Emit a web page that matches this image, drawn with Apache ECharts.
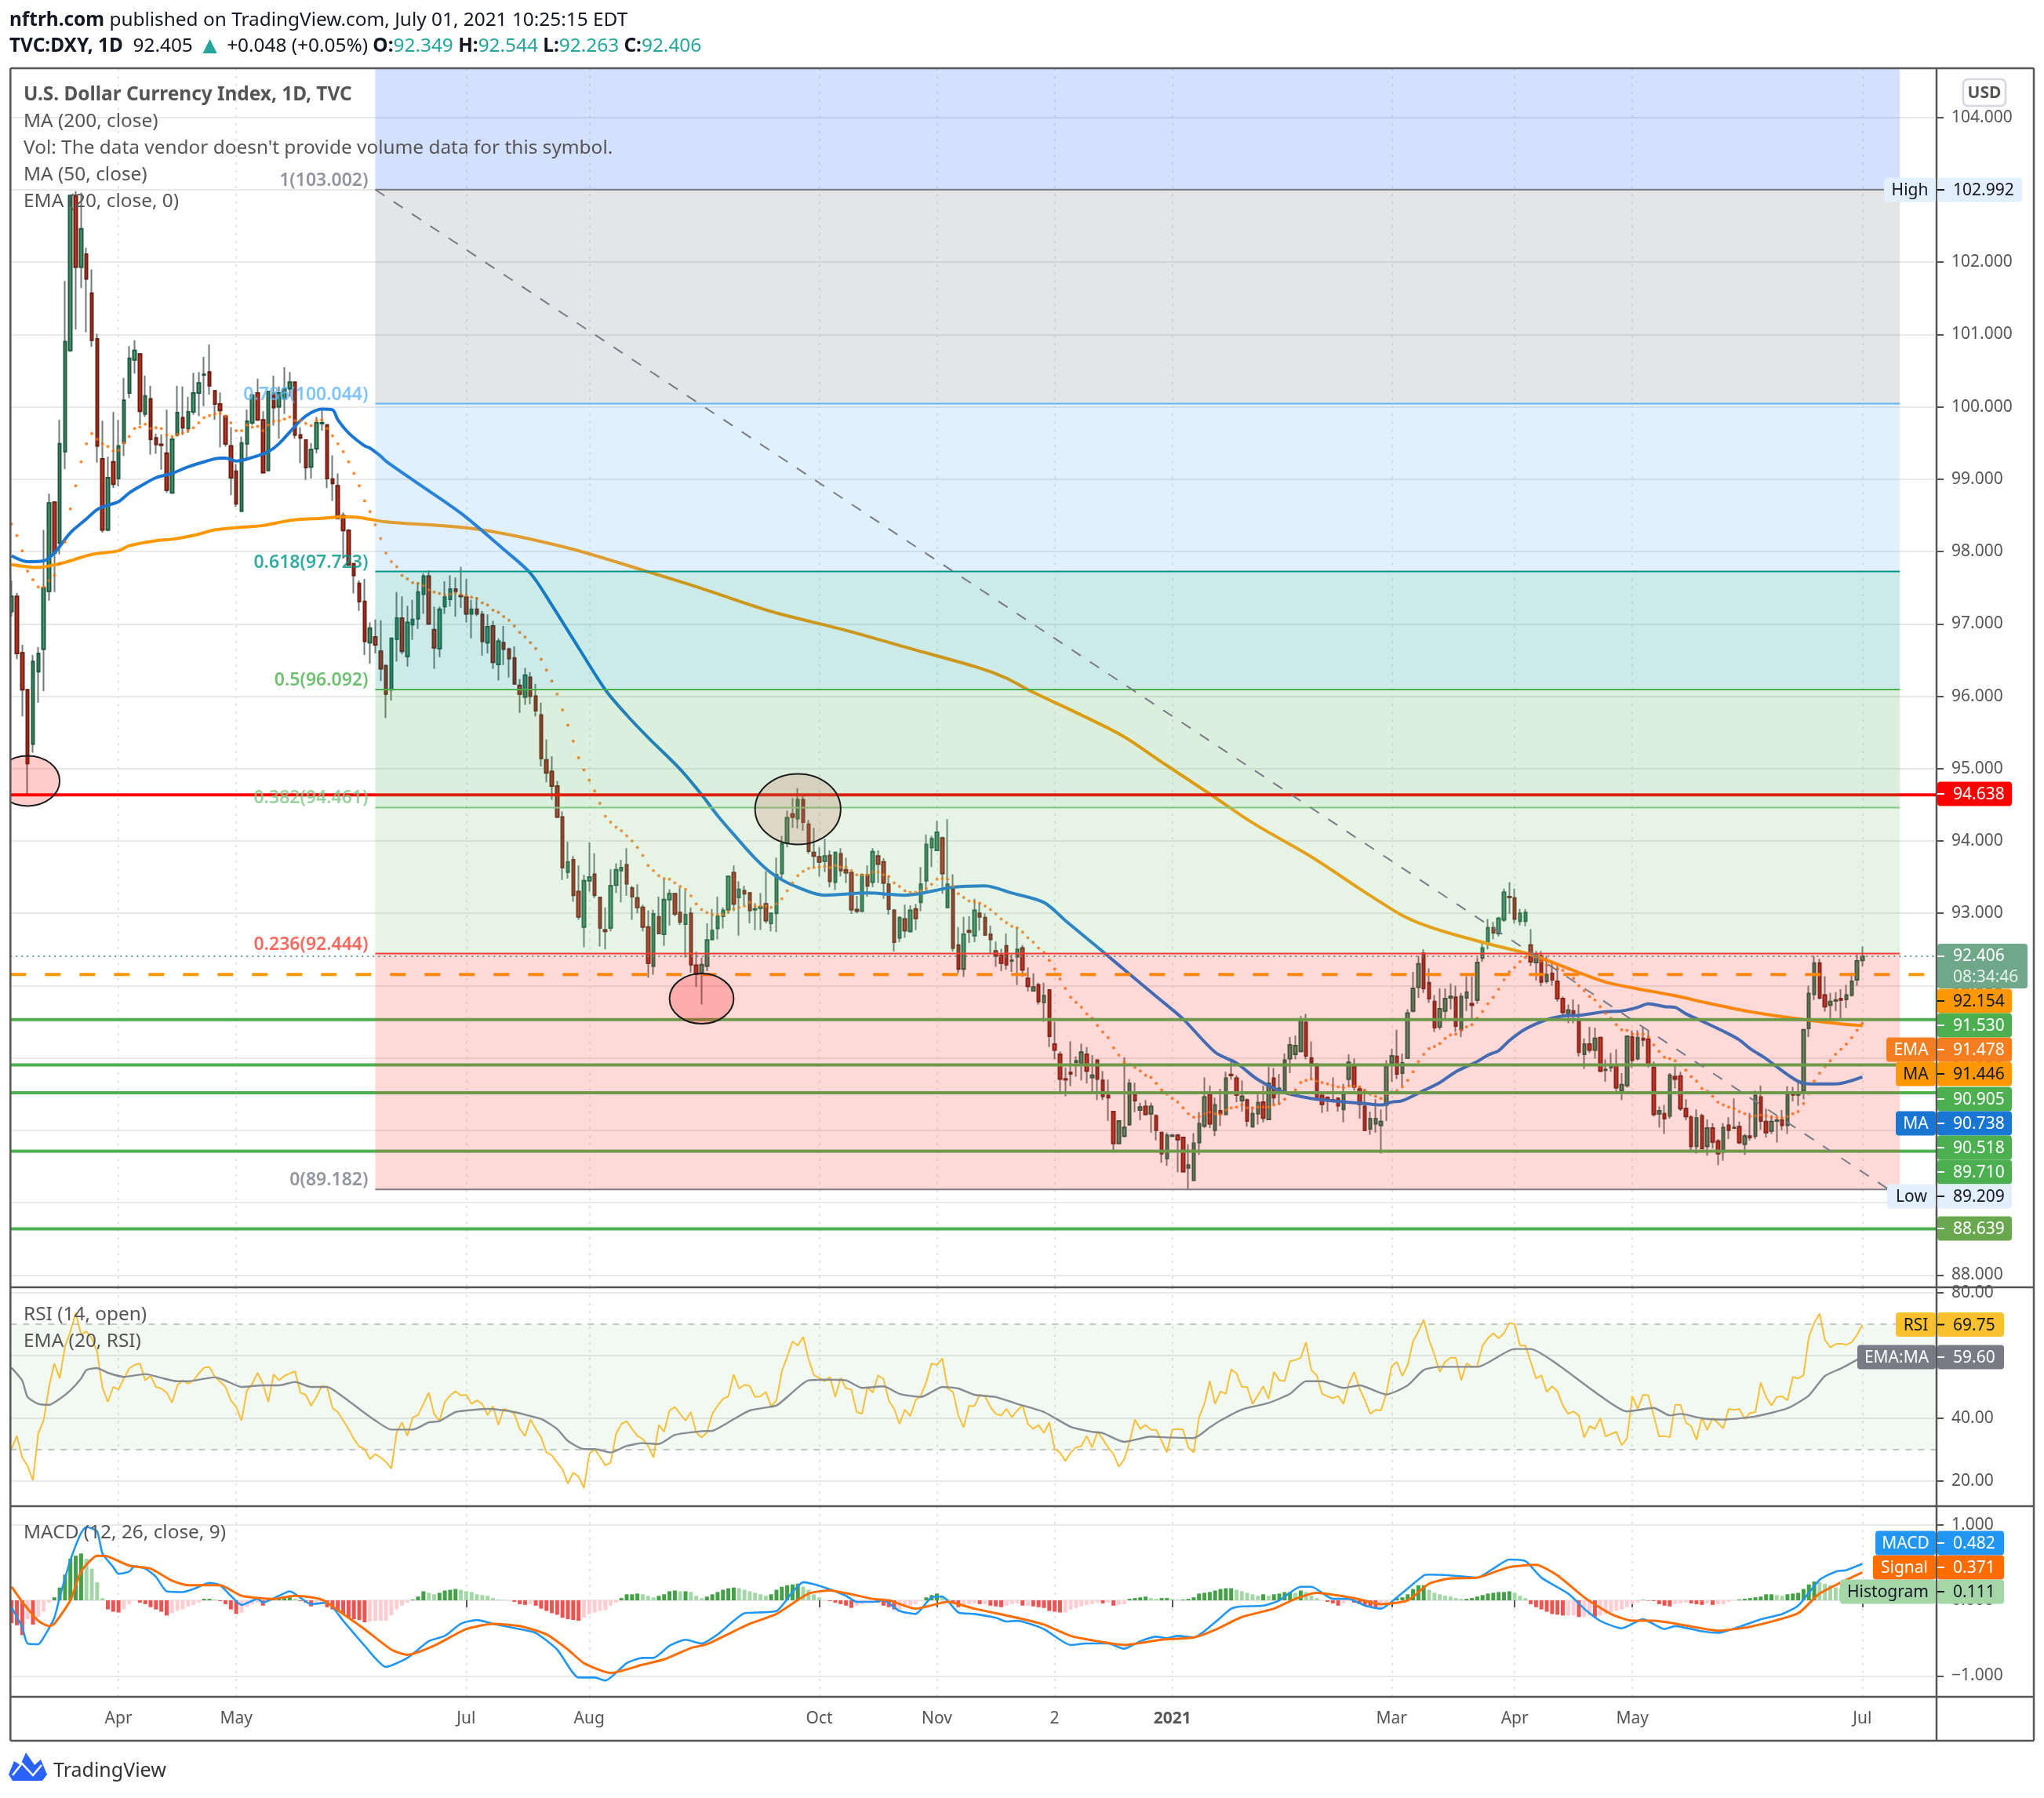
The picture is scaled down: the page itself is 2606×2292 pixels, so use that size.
<!DOCTYPE html>
<html><head><meta charset="utf-8"><style>html,body{margin:0;background:#fff}#c{width:2606px;height:2292px}</style>
<script src="https://cdn.jsdelivr.net/npm/echarts@6/dist/echarts.min.js"></script></head><body><div id="c"></div>
<script>
// [open, close, low, high] per trading day
const candles=[
[97.17,97.38,97.10,97.60],[97.38,96.59,96.51,97.43],[96.60,96.09,95.72,96.71],[96.09,95.07,94.64,96.10],[95.34,96.48,95.22,96.57],
[96.34,96.59,95.91,96.68],[96.65,97.50,96.07,98.30],[97.45,98.67,97.32,98.80],[98.68,97.98,97.44,98.69],[98.12,99.49,97.96,99.82],
[99.38,100.90,99.14,101.74],[100.78,102.92,100.76,102.93],[102.92,101.93,101.07,102.98],[101.93,102.46,101.64,102.96],[102.11,101.77,101.03,102.20],
[101.57,100.92,100.83,101.90],[100.94,99.46,99.23,101.01],[99.28,98.30,98.26,99.81],[98.30,99.02,98.28,99.31],[99.24,98.93,98.88,99.93],
[99.01,99.46,98.90,99.82],[99.50,100.09,99.32,100.40],[100.19,100.67,100.12,100.84],[100.65,100.78,100.46,100.92],[100.73,99.94,99.75,100.74],
[99.90,100.15,99.86,100.43],[100.11,99.55,99.34,100.29],[99.57,99.48,99.35,99.63],[99.48,99.47,99.13,99.62],[99.36,98.85,98.81,99.96],
[98.81,99.55,98.80,99.58],[99.61,99.92,99.59,100.29],[99.85,99.71,99.61,100.28],[99.70,99.93,99.64,100.14],[99.93,100.19,99.89,100.47],
[100.19,100.33,99.87,100.48],[100.44,100.45,100.01,100.69],[100.48,100.29,100.17,100.86],[100.22,100.04,99.82,100.23],[100.04,99.95,99.44,100.20],
[99.87,99.49,99.45,99.89],[99.46,99.02,98.78,99.72],[99.11,98.66,98.62,99.21],[98.56,99.50,98.55,99.59],[99.49,99.80,99.28,99.96],
[99.78,100.16,99.75,100.17],[100.19,99.82,99.81,100.39],[99.82,99.09,99.08,99.94],[99.12,100.21,99.11,100.22],[100.19,99.99,99.74,100.43],
[100.00,100.19,99.56,100.28],[100.11,100.25,99.90,100.55],[100.25,100.34,100.14,100.48],[100.34,99.61,99.56,100.35],[99.61,99.57,99.22,99.72],
[99.54,99.16,98.99,99.55],[99.17,99.41,99.01,99.50],[99.42,99.78,99.36,99.86],[99.77,99.78,99.67,99.98],[99.75,99.01,98.88,99.76],
[99.00,98.94,98.70,99.33],[98.91,98.46,98.45,99.08],[98.50,98.29,97.90,98.54],[98.29,97.82,97.81,98.31],[97.83,97.67,97.42,97.84],
[97.56,97.31,97.18,97.60],[97.31,96.76,96.57,97.62],[96.74,96.94,96.45,97.02],[96.82,96.71,96.59,97.06],[96.62,96.38,96.21,97.05],
[96.42,96.03,95.70,96.44],[96.09,96.80,95.94,96.81],[96.79,97.08,96.48,97.44],[97.08,96.62,96.58,97.38],[96.55,97.02,96.41,97.25],
[96.99,97.06,96.78,97.33],[97.07,97.44,96.93,97.57],[97.41,97.66,97.14,97.70],[97.66,97.00,96.99,97.74],[96.92,96.67,96.38,97.24],
[96.66,97.20,96.54,97.24],[97.24,97.37,97.14,97.59],[97.34,97.48,97.24,97.67],[97.48,97.45,97.10,97.64],[97.39,97.38,97.22,97.79],
[97.37,97.14,97.02,97.62],[97.14,97.20,96.80,97.33],[97.20,97.14,97.11,97.37],[97.13,96.76,96.56,97.18],[96.74,96.96,96.59,97.13],
[96.97,96.47,96.38,97.04],[96.44,96.76,96.22,96.80],[96.74,96.65,96.43,96.97],[96.65,96.52,96.26,96.67],[96.53,96.17,96.16,96.69],
[96.15,96.03,95.77,96.24],[95.99,96.29,95.88,96.39],[96.26,96.00,95.89,96.33],[96.00,95.80,95.72,96.17],[95.74,95.14,95.03,95.91],
[95.12,94.94,94.81,95.40],[94.96,94.76,94.57,95.17],[94.76,94.33,94.32,94.83],[94.33,93.63,93.46,94.41],[93.57,93.71,93.48,93.99],
[93.74,93.25,93.16,93.79],[93.30,92.95,92.91,93.66],[92.81,93.45,92.53,93.53],[93.45,93.50,93.30,93.98],[93.54,93.25,93.21,93.83],
[93.22,92.80,92.54,93.23],[92.77,92.75,92.50,93.08],[92.80,93.38,92.75,93.61],[93.39,93.60,93.28,93.69],[93.59,93.63,93.15,93.74],
[93.67,93.41,93.24,93.90],[93.35,93.23,92.91,93.38],[93.21,93.08,93.00,93.40],[93.08,92.81,92.75,93.12],[92.81,92.31,92.11,93.04],
[92.27,92.99,92.15,93.05],[92.95,92.72,92.71,93.23],[92.71,93.19,92.55,93.48],[93.19,93.27,92.83,93.33],[93.27,92.99,92.96,93.28],
[93.01,92.88,92.84,93.36],[92.85,92.98,92.39,93.31],[93.00,92.29,92.18,93.08],[92.28,92.16,91.98,92.47],[92.18,92.29,91.74,92.39],
[92.27,92.63,92.20,92.86],[92.64,92.76,92.63,93.06],[92.79,92.96,92.64,93.23],[92.96,93.04,92.79,93.08],[93.05,93.51,92.99,93.52],
[93.56,93.13,93.03,93.66],[93.22,93.33,92.69,93.44],[93.31,93.27,93.11,93.38],[93.28,93.04,92.86,93.29],[93.05,93.06,92.77,93.14],
[93.07,93.09,92.77,93.28],[93.13,92.90,92.86,93.58],[92.86,93.00,92.75,93.01],[93.00,93.53,92.74,93.77],[93.55,93.96,93.47,94.07],
[93.97,94.32,93.91,94.42],[94.37,94.33,94.18,94.59],[94.31,94.57,94.17,94.73],[94.57,94.26,94.14,94.62],[94.23,93.86,93.82,94.29],
[93.84,93.79,93.64,94.18],[93.78,93.71,93.51,93.91],[93.72,93.79,93.57,94.03],[93.80,93.44,93.36,93.87],[93.43,93.84,93.32,93.85],
[93.82,93.59,93.51,93.90],[93.60,93.56,93.42,93.77],[93.56,93.05,92.99,93.58],[93.05,93.03,93.00,93.24],[93.03,93.53,93.02,93.55],
[93.53,93.38,93.23,93.66],[93.43,93.85,93.36,93.90],[93.79,93.68,93.42,93.87],[93.71,93.42,93.20,93.76],[93.40,93.06,92.98,93.51],
[93.04,92.60,92.47,93.06],[92.66,92.94,92.60,92.96],[92.92,92.76,92.66,93.12],[92.75,93.04,92.73,93.11],[93.06,92.93,92.77,93.13],
[93.15,93.40,93.03,93.64],[93.45,93.95,93.31,94.09],[93.91,94.03,93.64,94.07],[93.87,94.12,93.86,94.28],[94.04,93.55,93.27,94.06],
[93.08,93.40,93.07,94.30],[93.33,92.52,92.47,93.54],[92.56,92.23,92.17,92.81],[92.23,92.71,92.12,92.95],[92.76,92.74,92.59,92.96],
[92.69,93.04,92.60,93.20],[93.00,92.95,92.76,93.14],[92.94,92.70,92.69,93.00],[92.71,92.64,92.45,92.83],[92.48,92.41,92.26,92.61],
[92.42,92.31,92.20,92.51],[92.55,92.29,92.22,92.72],[92.34,92.35,92.19,92.43],[92.40,92.50,92.01,92.81],[92.52,92.22,92.12,92.56],
[92.10,91.99,91.92,92.25],[91.93,91.98,91.92,92.17],[92.01,91.78,91.74,92.04],[91.77,91.86,91.50,92.04],[91.94,91.30,91.15,91.95],
[91.19,91.11,90.98,91.50],[91.05,90.71,90.54,91.09],[90.71,90.70,90.47,90.87],[90.80,90.78,90.61,91.23],[90.94,90.96,90.74,91.02],
[90.92,91.08,90.69,91.20],[91.05,90.82,90.65,91.15],[90.73,90.76,90.52,91.04],[90.97,90.71,90.42,90.98],[90.69,90.47,90.42,90.82],
[90.48,90.45,90.13,90.70],[90.26,89.82,89.72,90.27],[89.82,90.13,89.81,90.14],[89.92,90.04,89.90,91.01],[90.08,90.65,90.06,90.71],
[90.50,90.41,90.25,90.66],[90.28,90.32,90.14,90.38],[90.33,90.22,90.21,90.42],[90.23,90.33,89.97,90.38],[90.20,90.00,89.86,90.22],
[89.97,89.68,89.55,89.98],[89.61,89.93,89.51,89.97],[89.92,89.93,89.92,89.95],[89.93,89.87,89.42,89.95],[89.90,89.43,89.42,89.91],
[89.48,89.52,89.19,89.81],[89.31,89.82,89.30,89.96],[89.83,90.09,89.66,90.25],[90.06,90.46,90.03,90.73],[90.50,90.09,90.03,90.62],
[90.00,90.35,89.92,90.45],[90.27,90.23,90.06,90.57],[90.22,90.72,90.21,90.81],[90.77,90.76,90.70,90.95],[90.72,90.49,90.39,90.76],
[90.41,90.47,90.26,90.69],[90.42,90.13,90.05,90.44],[90.05,90.23,90.04,90.32],[90.23,90.38,90.08,90.50],[90.39,90.17,90.11,90.62],
[90.15,90.65,90.14,90.88],[90.72,90.45,90.35,90.86],[90.56,90.58,90.35,90.78],[90.52,90.97,90.51,91.06],[90.99,91.18,90.79,91.29],
[91.05,91.17,90.98,91.31],[91.09,91.53,91.08,91.58],[91.49,91.03,90.98,91.61],[91.00,90.93,90.70,91.23],[90.90,90.43,90.42,90.93],
[90.48,90.36,90.24,90.49],[90.45,90.42,90.26,90.47],[90.42,90.41,90.39,90.73],[90.44,90.34,90.26,90.46],[90.29,90.50,90.11,90.64],
[90.71,90.94,90.61,91.05],[90.88,90.60,90.55,90.99],[90.57,90.36,90.16,90.61],[90.33,90.00,89.99,90.57],[90.02,90.16,89.94,90.26],
[90.09,90.16,89.97,90.43],[90.07,90.12,89.68,90.29],[90.35,90.88,90.13,90.97],[90.93,91.03,90.67,91.13],[91.02,90.78,90.71,91.39],
[90.79,90.93,90.61,91.06],[91.00,91.62,90.99,91.67],[91.65,91.96,91.63,92.19],[91.98,92.30,91.83,92.41],[92.45,91.96,91.90,92.50],
[92.04,91.82,91.76,92.24],[91.78,91.42,91.36,91.87],[91.43,91.68,91.39,91.96],[91.65,91.82,91.55,91.96],[91.83,91.85,91.67,92.03],
[91.84,91.44,91.36,92.00],[91.39,91.85,91.29,91.90],[91.83,91.91,91.65,92.13],[91.75,91.73,91.55,92.13],[91.80,92.32,91.75,92.39],
[92.38,92.52,92.33,92.61],[92.59,92.80,92.50,92.92],[92.80,92.73,92.64,92.88],[92.72,92.93,92.68,92.95],[92.91,93.29,92.88,93.34],
[93.23,93.22,92.99,93.43],[93.21,92.92,92.86,93.34],[92.89,93.00,92.83,93.06],[92.89,93.01,92.82,93.06],[92.56,92.33,92.27,92.78],
[92.32,92.43,92.07,92.48],[92.41,92.05,91.99,92.48],[92.06,92.15,92.03,92.41],[92.17,92.08,92.00,92.33],[92.06,91.82,91.78,92.31],
[91.82,91.63,91.56,91.85],[91.62,91.66,91.48,91.74],[91.65,91.61,91.48,91.81],[91.51,91.08,91.02,91.74],[91.05,91.19,90.85,91.27],
[91.19,91.11,91.07,91.43],[91.11,91.27,90.99,91.42],[91.28,90.82,90.80,91.29],[90.83,90.84,90.67,90.98],[90.87,90.90,90.81,91.07],
[90.90,90.59,90.53,91.12],[90.55,90.63,90.42,90.79],[90.62,91.30,90.59,91.31],[91.29,90.97,90.86,91.38],[90.99,91.28,90.97,91.38],
[91.27,91.25,91.16,91.43],[91.26,90.91,90.87,91.38],[90.87,90.22,90.19,90.95],[90.23,90.27,90.04,90.33],[90.23,90.16,89.95,90.35],
[90.20,90.76,90.16,90.79],[90.74,90.71,90.58,90.89],[90.75,90.30,90.27,90.81],[90.30,90.19,90.14,90.43],[90.18,89.78,89.72,90.21],
[89.78,90.17,89.68,90.29],[90.20,89.75,89.74,90.23],[89.78,90.03,89.65,90.15],[90.03,89.84,89.75,90.10],[89.85,89.68,89.52,89.88],
[89.70,90.04,89.58,90.10],[90.07,90.00,89.88,90.18],[90.03,90.04,90.02,90.44],[90.05,89.83,89.81,90.12],[89.81,89.92,89.66,89.95],
[89.92,89.90,89.86,90.24],[89.92,90.48,89.88,90.55],[90.46,90.13,90.01,90.62],[90.12,89.97,89.90,90.30],[89.99,90.12,89.95,90.21],
[90.13,90.14,89.83,90.17],[90.14,90.07,90.00,90.28],[90.07,90.50,89.95,90.61],[90.50,90.49,90.40,90.60],[90.49,90.50,90.34,90.66],
[90.55,91.39,90.43,91.40],[91.41,91.89,91.29,92.00],[91.88,92.31,91.80,92.41],[92.31,91.83,91.81,92.37],[91.87,91.71,91.64,92.13],
[91.73,91.78,91.55,91.90],[91.79,91.80,91.65,91.91],[91.82,91.80,91.55,91.95],[91.81,91.87,91.69,92.01],[91.87,92.06,91.85,92.18],
[92.08,92.34,92.00,92.43],[92.349,92.406,92.263,92.544]];
// EMA 20 of the close, one dot per bar
const ema20=[98.38,98.22,98.01,97.73,97.61,97.51,97.51,97.60,97.67,97.83,98.13,98.59,98.91,99.24,99.49,99.63,99.55,99.49,99.45,99.39,
99.40,99.50,99.59,99.70,99.72,99.76,99.70,99.71,99.70,99.61,99.59,99.62,99.64,99.67,99.71,99.78,99.85,99.88,99.90,99.91,
99.87,99.78,99.67,99.67,99.75,99.72,99.73,99.67,99.75,99.80,99.81,99.83,99.86,99.81,99.81,99.77,99.74,99.81,99.82,99.70,
99.60,99.49,99.38,99.24,99.08,98.91,98.70,98.55,98.37,98.18,97.98,97.86,97.79,97.67,97.62,97.57,97.56,97.53,97.47,97.44,
97.42,97.40,97.41,97.43,97.41,97.39,97.37,97.35,97.29,97.26,97.19,97.16,97.10,97.05,96.97,96.88,96.82,96.74,96.66,96.51,
96.36,96.21,96.03,95.81,95.60,95.38,95.15,94.98,94.84,94.69,94.52,94.34,94.26,94.19,94.14,94.07,94.00,93.91,93.80,93.66,
93.59,93.52,93.48,93.47,93.42,93.37,93.33,93.24,93.13,93.05,93.01,92.98,92.98,92.98,93.02,93.06,93.08,93.10,93.15,93.10,
93.10,93.10,93.08,93.13,93.20,93.31,93.42,93.52,93.58,93.62,93.63,93.64,93.65,93.63,93.66,93.64,93.64,93.59,93.53,93.53,
93.53,93.57,93.57,93.53,93.51,93.42,93.37,93.31,93.29,93.29,93.31,93.34,93.40,93.47,93.48,93.47,93.38,93.27,93.22,93.17,
93.16,93.14,93.10,93.05,92.99,92.92,92.87,92.82,92.80,92.74,92.66,92.60,92.52,92.46,92.35,92.23,92.09,91.96,91.84,91.77,
91.70,91.61,91.55,91.45,91.36,91.28,91.14,91.04,90.94,90.91,90.87,90.82,90.76,90.73,90.65,90.56,90.50,90.44,90.39,90.31,
90.23,90.18,90.19,90.23,90.25,90.23,90.22,90.28,90.31,90.32,90.35,90.31,90.31,90.32,90.32,90.32,90.35,90.37,90.43,90.50,
90.56,90.66,90.69,90.71,90.68,90.66,90.64,90.62,90.60,90.59,90.61,90.61,90.60,90.55,90.50,90.47,90.44,90.50,90.53,90.55,
90.60,90.69,90.81,90.95,91.05,91.13,91.16,91.20,91.27,91.32,91.33,91.38,91.43,91.46,91.55,91.64,91.75,91.84,91.95,92.08,
92.19,92.25,92.33,92.39,92.45,92.39,92.34,92.28,92.25,92.23,92.21,92.16,92.10,92.00,91.93,91.85,91.80,91.71,91.62,91.55,
91.46,91.39,91.38,91.33,91.33,91.33,91.29,91.18,91.09,91.01,90.99,90.96,90.90,90.83,90.74,90.68,90.58,90.54,90.47,90.39,
90.35,90.32,90.30,90.26,90.23,90.19,90.20,90.21,90.20,90.18,90.18,90.17,90.19,90.23,90.26,90.37,90.51,90.68,90.79,90.88,
90.96,91.05,91.12,91.19,91.28,91.38,91.478];
// [bar index, value]
const ma200=[[0,97.82],[5,97.78],[7,97.80],[10,97.85],[15,97.96],[20,98.01],[22,98.08],[27,98.15],[30,98.17],[35,98.24],[38,98.30],[42,98.33],[47,98.36],[52,98.43],[58,98.46],[62,98.48],[65,98.47],[70,98.41],[87,98.31],[104,98.05],[119,97.72],[129,97.49],[139,97.24],[144,97.13],[156,96.91],[168,96.66],[181,96.39],[186,96.25],[190,96.09],[200,95.74],[208,95.44],[215,95.09],[224,94.65],[232,94.25],[243,93.78],[252,93.34],[256,93.15],[260,92.97],[264,92.84],[269,92.72],[277,92.56],[284,92.43],[293,92.18],[298,92.05],[303,91.97],[311,91.86],[317,91.76],[325,91.64],[334,91.54],[342,91.47],[346,91.446]];
const ma50=[[0,97.94],[3,97.86],[6,97.87],[8,97.98],[11,98.26],[14,98.45],[16,98.58],[18,98.64],[20,98.69],[22,98.81],[24,98.90],[27,99.02],[30,99.08],[33,99.17],[36,99.24],[39,99.29],[40,99.29],[42,99.25],[45,99.30],[48,99.38],[50,99.49],[54,99.81],[56,99.92],[58,99.97],[60,99.96],[61,99.82],[63,99.64],[66,99.46],[67,99.43],[69,99.32],[70,99.25],[76,98.94],[84,98.53],[92,98.03],[97,97.70],[101,97.26],[106,96.67],[111,96.09],[115,95.74],[119,95.43],[125,94.99],[129,94.64],[132,94.35],[135,94.09],[139,93.76],[142,93.56],[146,93.39],[152,93.25],[160,93.28],[167,93.25],[176,93.36],[182,93.38],[187,93.28],[193,93.15],[197,92.90],[204,92.47],[209,92.16],[214,91.85],[219,91.54],[225,91.08],[229,90.93],[233,90.70],[238,90.52],[243,90.44],[248,90.40],[253,90.37],[256,90.35],[258,90.39],[260,90.41],[264,90.55],[267,90.66],[270,90.81],[274,90.95],[276,91.04],[278,91.10],[280,91.24],[283,91.40],[287,91.53],[290,91.58],[293,91.59],[298,91.64],[301,91.65],[304,91.70],[306,91.75],[309,91.71],[311,91.70],[313,91.61],[316,91.51],[320,91.37],[323,91.25],[325,91.13],[328,90.99],[332,90.77],[335,90.65],[339,90.64],[342,90.65],[346,90.738]];
// RSI (14, open), one value per bar
const rsi=[30.2,34.4,27.5,24.8,20.3,35.3,39.3,50,57.5,52.7,62.9,67.7,73.6,66.6,67.7,65.5,61.2,49.7,45.2,50,
49.2,52.7,55.9,57,57.5,52.1,53.5,50,49.5,48.2,45,50.5,52.1,51,52,54.3,56.1,56.4,53.2,51.7,
50,45.7,43.6,39.3,48.9,51,54.5,51,45.2,54,52.1,53.5,54.3,55,48.2,47.5,44,46.8,50.3,50,
43.3,42,39.3,36.6,33.4,31,30.2,27,28.6,27.5,26.1,24,35.5,38.7,34.4,40.3,41.1,44.6,48.2,41.4,
39.1,45.2,47.3,48.6,47.3,47.5,44.6,45.7,44.6,41,43.9,37.9,43,42.5,41.4,36.6,34.4,39.6,36.6,33.9,
29.1,28.2,25.9,23.7,19.2,22.7,21.4,17.8,28.6,30.2,27.8,25,25.9,35,38.2,39.1,36.6,34.4,33.4,31.2,
27.5,37.9,35.7,42.5,43.6,41.4,39.3,42,35.5,33.9,35.5,41.4,44,46.2,47,54,49.5,50.7,50.3,46.8,
47,48.4,43.9,45.7,55,59.6,64.5,63.2,66,58.9,53.7,52.9,51.8,53.2,46.8,52.9,49.5,49.2,42,41.4,
50,48.2,53.7,52.5,45.7,43,38.2,42.8,40.7,45.7,47.3,51.6,57.5,57,59.1,49.5,48.4,40.9,37.1,44,
43.9,47.5,47,43.6,41.4,40.9,43,40.3,42.5,44.1,38.2,36.6,37.9,35.3,38.7,30.2,29.1,26.4,29.1,30.7,
31.2,34.4,30.7,35.7,33.4,30.7,28.6,24.6,26.9,32.3,39.6,36.6,37.9,36.4,36.3,32.8,29.1,36.4,36.6,36.4,
30.7,29.1,40.3,44.6,51.9,44.6,48.6,47.8,55.6,54.3,50,50,44.6,47.3,50.2,46.2,54.8,52.1,51.9,58.2,
58.6,59.3,64.2,55.3,53.7,47.8,47,46.4,47.1,44.6,51,54.8,49.5,45.7,41.4,42.7,42.5,47.8,56.6,58,
53.5,57,64.5,67.7,71.4,65,60.2,54.8,58,59.3,59.3,52.1,57.5,56.4,56.6,63.2,65.5,67.1,65.5,67.1,
70.4,70,63.2,63.2,58,52.7,53.7,48.4,50.2,48.6,44.1,41.4,42.2,40.9,33.9,37.5,36.6,40.1,34.2,35,
35.7,31.4,33.6,47.1,43,47.5,47.3,40.9,34.2,34.4,33.9,44.3,44.3,38.7,37.5,33.1,40.3,36.3,40.1,38.5,
36.8,43,42.7,43,39.8,41.7,42,51.4,46.8,44.1,46.8,47,45.7,53.2,52.7,53.7,66,70.4,73.4,65,
62.6,63.6,63.8,63.4,64.2,66.6,69.75];
const rsiEma=[[0,56.1],[2,52],[3,46.8],[5,44.6],[7,44.3],[9,46.2],[11,48.9],[13,52.7],[14,55.4],[16,56],[18,54.5],[21,53.2],[25,54.1],[28,52.9],[31,51.8],[33,51.8],[38,53.1],[40,52],[43,50],[47,50.5],[50,50.5],[53,51.6],[56,50],[59,50],[62,46.8],[65,43],[68,39.3],[71,36.4],[75,36.4],[78,38.7],[80,39.1],[83,42],[87,42.8],[89,43],[93,42.3],[99,39.8],[102,36.6],[104,32.8],[107,30.2],[109,30.2],[112,29.1],[115,31.2],[118,32.1],[121,31.8],[124,34.7],[129,35.9],[131,36],[134,38.7],[138,42.5],[143,44.1],[145,46.8],[149,52.1],[153,52.3],[156,52.1],[159,49.7],[163,50.2],[166,47.8],[170,46.8],[174,50],[177,49.5],[180,47.5],[184,46.8],[188,44.6],[193,42],[198,37.3],[202,35.7],[204,35.3],[208,32.5],[213,34.2],[216,33.9],[221,33.7],[224,37.1],[226,39.3],[230,42.8],[235,44.9],[239,47.8],[242,51.8],[245,51.8],[249,49.7],[252,50.5],[257,47.6],[261,50.5],[264,55.4],[267,56.4],[274,56.4],[281,62.1],[284,62.1],[289,57.2],[296,48.4],[302,42.2],[307,43.3],[310,40.9],[312,41.4],[316,40],[320,39.6],[326,40.6],[332,43.2],[336,47.3],[339,53.5],[342,55.9],[346,59.6]];
const macdLine=[[0,-.09],[2,-.36],[3,-.57],[5,-.58],[6,-.49],[8,-.23],[9,.04],[11,.53],[13,.89],[14,.97],[16,.91],[17,.62],[19,.44],[20,.35],[22,.38],[23,.45],[25,.42],[27,.31],[29,.12],[32,.11],[34,.15],[37,.23],[39,.2],[41,.06],[43,-.06],[46,.02],[47,-.03],[50,.06],[52,.12],[56,-.05],[59,-.03],[62,-.27],[66,-.6],[70,-.88],[74,-.76],[78,-.54],[81,-.47],[84,-.31],[87,-.26],[90,-.31],[95,-.38],[98,-.43],[102,-.65],[106,-1.02],[109,-1.02],[111,-1.06],[115,-.83],[118,-.76],[120,-.76],[123,-.6],[126,-.52],[129,-.57],[132,-.45],[135,-.27],[137,-.17],[143,-.14],[146,.11],[148,.24],[152,.17],[156,.06],[158,-.02],[161,-.02],[163,0],[166,-.14],[169,-.18],[172,.04],[174,.05],[177,-.16],[180,-.18],[184,-.23],[186,-.28],[188,-.27],[193,-.38],[198,-.59],[201,-.57],[205,-.57],[208,-.64],[211,-.54],[214,-.48],[216,-.5],[218,-.47],[221,-.49],[225,-.29],[228,-.11],[230,-.08],[234,-.07],[237,0],[241,.18],[243,.18],[247,.02],[250,.02],[253,-.07],[256,-.11],[259,.04],[264,.33],[265,.34],[269,.33],[274,.3],[277,.42],[280,.54],[283,.52],[286,.3],[291,.09],[294,-.11],[297,-.27],[301,-.37],[305,-.25],[309,-.38],[311,-.34],[316,-.41],[319,-.43],[323,-.35],[327,-.25],[331,-.18],[334,-.07],[338,.27],[341,.38],[343,.4],[346,.482]];
const macdSignal=[[0,.18],[2,-.02],[5,-.27],[7,-.34],[8,-.31],[11,0],[13,.38],[16,.59],[18,.58],[22,.46],[26,.42],[30,.26],[33,.2],[39,.2],[43,.06],[49,.02],[53,.06],[58,.01],[62,-.18],[66,-.38],[71,-.65],[74,-.72],[79,-.6],[85,-.38],[90,-.31],[95,-.34],[100,-.45],[104,-.65],[107,-.83],[112,-.96],[118,-.85],[122,-.78],[127,-.63],[130,-.58],[138,-.31],[143,-.18],[149,.09],[153,.13],[157,.08],[161,.02],[164,0],[169,-.11],[175,-.02],[180,-.11],[188,-.23],[193,-.32],[198,-.47],[203,-.54],[208,-.59],[215,-.52],[221,-.49],[225,-.39],[230,-.22],[236,-.11],[240,.02],[244,.1],[251,.03],[256,-.05],[261,0],[265,.22],[269,.29],[274,.3],[280,.44],[285,.47],[289,.33],[294,.04],[299,-.18],[303,-.27],[307,-.27],[312,-.32],[319,-.4],[325,-.35],[334,-.17],[338,.09],[346,.371]];
const macdHist=[-.30,-.33,-.46,-.25,-.32,-.22,-.15,-.03,.04,.17,.34,.55,.59,.62,.55,.42,.24,.03,-.12,-.15,
-.16,-.12,-.05,0,-.03,-.05,-.09,-.12,-.15,-.2,-.17,-.14,-.12,-.08,-.06,-.03,.02,.02,.01,-.01,
-.05,-.12,-.18,-.16,-.09,-.05,-.03,-.07,.01,.03,.04,.05,.06,.02,-.01,-.03,-.08,-.05,-.03,-.09,
-.12,-.15,-.18,-.22,-.25,-.26,-.29,-.28,-.27,-.27,-.27,-.2,-.12,-.07,-.03,.01,.05,.12,.1,.08,
.1,.13,.14,.15,.14,.12,.11,.08,.07,.06,.03,.01,.005,.002,-.02,-.05,-.06,-.05,-.07,-.11,
-.14,-.17,-.19,-.23,-.25,-.26,-.27,-.23,-.18,-.16,-.14,-.13,-.07,-.03,.03,.08,.08,.09,.08,.06,
.04,.06,.08,.12,.13,.12,.12,.11,.06,.03,.05,.08,.11,.14,.16,.17,.16,.14,.12,.1,
.08,.06,.08,.14,.18,.2,.21,.22,.18,.14,.08,.04,.002,-.01,-.03,-.05,-.07,-.1,-.07,-.05,
-.03,-.005,-.03,-.07,-.09,-.12,-.12,-.09,-.07,-.05,-.01,.04,.07,.09,.06,.02,-.03,-.09,-.07,-.05,
-.04,-.05,-.05,-.07,-.08,-.09,-.07,-.05,-.04,-.07,-.07,-.08,-.09,-.1,-.14,-.15,-.16,-.16,-.12,-.1,
-.08,-.06,-.05,-.03,-.04,-.03,-.07,-.06,-.05,.02,.03,.04,.05,.03,.02,.03,.03,.02,.01,.01,
.02,.04,.09,.1,.11,.13,.15,.16,.16,.14,.12,.1,.08,.06,.08,.06,.08,.09,.11,.11,
.1,.13,.11,.06,.03,.002,-.02,-.04,-.07,-.04,-.01,-.03,-.05,-.07,-.09,-.1,-.1,-.05,.002,.03,
.04,.08,.15,.2,.2,.14,.1,.08,.06,.05,.03,.02,.02,.03,.05,.07,.09,.1,.11,.11,
.12,.1,.06,.03,-.05,-.09,-.12,-.15,-.18,-.19,-.2,-.2,-.2,-.22,-.22,-.2,-.22,-.2,-.18,-.16,
-.14,-.12,-.09,-.05,-.03,.005,-.005,-.01,-.05,-.07,-.08,-.05,-.04,-.03,-.04,-.05,-.06,-.04,-.06,-.05,
-.05,-.02,-.002,.01,.02,.03,.04,.05,.08,.08,.07,.06,.08,.09,.1,.15,.21,.25,.24,.22,
.2,.17,.15,.13,.12,.11,.111];
// x axis
const barCount=360;
const tickIdx=[20,42,85,108,151,173,195,217,258,281,303,346];
const tickText=['Apr','May','Jul','Aug','Oct','Nov','2','2021','Mar','Apr','May','Jul'];
const categories=Array.from({length:barCount},(_,i)=>{const k=tickIdx.indexOf(i);return k<0?'':tickText[k];});
// y axes
const priceTicks=[88,89,90,91,92,93,94,95,96,97,98,99,100,101,102,103,104];
const rsiTicks=[20,40,60,80];
const macdTicks=[-1,0,1];
// fib retracement
const fibFrom=68,fibTo=353;
const fibLevels=['1','0.786','0.618','0.5','0.382','0.236','0'];
const fibPrices=[103.002,100.044,97.723,96.092,94.461,92.444,89.182];
const fibLine=['#787b86','#64b5f6','#009688','#4caf50','#81c784','#f44336','#787b86'];
const fibFill=['rgba(41,98,255,.2)','rgba(120,123,134,.2)','rgba(100,181,246,.2)','rgba(0,150,136,.2)','rgba(76,175,80,.2)','rgba(129,199,132,.2)','rgba(244,67,54,.2)'];
// horizontal levels
const greenLevels=[91.53,90.905,90.518,89.71,88.639];
const redLevel=94.638, dashLevel=92.154, lastPrice=92.406;
const trendFrom=[68,103.002], trendTo=[351,89.18];
// annotated ellipses: [bar, price, half width in bars, half height in price]
const ellipses=[[3,94.83,6,.347],[147,94.44,8,.488],[129,91.82,6,.347]];
const ellipseFill=['rgba(255,0,0,.2)','rgba(188,100,65,.2)','rgba(255,0,0,.2)'];
const rsiBand=[30,70];

const F='"Noto Sans",sans-serif';
const L=11.3,R=2606-2466.5;
const Y={t:87,a:1641,b:1920,c:2163,d:2219,ax:2469,rt:2593,lf:13.3};
const GRID='#e9e9e9',AX='#555',TXT='#555';
const chart=echarts.init(document.getElementById('c'),null,{renderer:'canvas',width:2606,height:2292,devicePixelRatio:1});
const isTick=i=>tickIdx.indexOf(i)>=0;
function xAxis(g,last){return {type:'category',gridIndex:g,data:categories,boundaryGap:true,
  axisLine:{show:false},
  axisTick:{show:last,length:9,alignWithLabel:true,interval:i=>isTick(i),lineStyle:{color:AX,width:2}},
  axisLabel:{show:last,interval:i=>isTick(i),margin:17.5,fontFamily:F,fontSize:21,color:TXT,hideOverlap:false,
    formatter:v=>v==='2021'?'{b|2021}':v,rich:{b:{fontWeight:'bold',fontFamily:F,fontSize:21,color:TXT}}},
  splitLine:{show:true,alignWithLabel:true,interval:i=>isTick(i),lineStyle:{color:'#e4e4e4',width:2,type:[3,7]}}};}
function yAxis(g,min,max,ticks,fmt){return {type:'value',gridIndex:g,position:'right',offset:2.5,min,max,scale:true,
  axisLine:{show:false},axisTick:{show:true,length:9,customValues:ticks,lineStyle:{color:AX,width:2}},
  axisLabel:{customValues:ticks,margin:19,padding:[5,0,0,0],fontFamily:F,fontSize:21,color:TXT,formatter:fmt,showMinLabel:true,showMaxLabel:true},
  splitLine:{show:true,lineStyle:{color:GRID,width:2}}};}
const hRule=(name,vals,color,width,dash,z,gridI)=>({type:'custom',name,coordinateSystem:'cartesian2d',xAxisIndex:gridI||0,yAxisIndex:gridI||0,z,clip:false,silent:true,
  data:vals.map(v=>[0,v]),encode:{x:0,y:1},
  renderItem:(p,api)=>{const y=api.coord([0,api.value(1)])[1];return {type:'line',shape:{x1:Y.lf,x2:Y.ax,y1:y,y2:y},style:{stroke:color,lineWidth:width,lineDash:dash||null}};}});
const fibBands=fibFill.map((c,i)=>[i]);
const series=[
 {type:'candlestick',name:'wick',xAxisIndex:0,yAxisIndex:0,z:2,barWidth:2,data:candles,silent:true,
  itemStyle:{color:'#6f7a74',color0:'#6f7a74',borderColor:'#6f7a74',borderColor0:'#6f7a74',borderWidth:2}},
 {type:'candlestick',name:'body',xAxisIndex:0,yAxisIndex:0,z:2.1,barWidth:4,silent:true,
  data:candles.map(c=>[c[0],c[1],Math.min(c[0],c[1]),Math.max(c[0],c[1])]),
  itemStyle:{color:'#4e9772',color0:'#c9331f',borderColor:'#1d5a3f',borderColor0:'#6a1f14',borderWidth:2}},
 {type:'line',name:'MA200',xAxisIndex:0,yAxisIndex:0,z:3,data:ma200,showSymbol:false,smooth:.3,lineStyle:{color:'#ff9800',width:4}},
 {type:'line',name:'MA50',xAxisIndex:0,yAxisIndex:0,z:3,data:ma50,showSymbol:false,smooth:.3,lineStyle:{color:'#1976d2',width:4}},
 {type:'scatter',name:'EMA20',xAxisIndex:0,yAxisIndex:0,z:3,symbolSize:4,data:ema20.map((v,i)=>[i,v]),itemStyle:{color:'#ff6d00'},silent:true},
 hRule('green',greenLevels,'#4caf50',4,null,4),
 hRule('red',[redLevel],'#ff0000',4,null,4),
 hRule('dash',[dashLevel],'#ff9800',4,[20,24],4),
 hRule('last',[lastPrice],'#5f9e80',2,[2,5],4),
 {type:'custom',name:'fib bands',coordinateSystem:'cartesian2d',xAxisIndex:0,yAxisIndex:0,z:5,clip:false,silent:true,data:fibBands,encode:{x:[],y:[]},
  renderItem:(p,api)=>{const i=api.value(0);
    const b=fibPrices[i];const t=i===0?104.68:fibPrices[i-1];
    const a=api.coord([fibFrom,t]),c=api.coord([fibTo,b]);return {type:'rect',shape:{x:a[0],y:a[1],width:c[0]-a[0],height:c[1]-a[1]},style:{fill:fibFill[i]}};}},
 {type:'custom',name:'fib lines',coordinateSystem:'cartesian2d',xAxisIndex:0,yAxisIndex:0,z:6,clip:false,silent:true,data:fibPrices.map((p,i)=>[i]),encode:{x:[],y:[]},
  renderItem:(p,api)=>{const i=api.value(0);const a=api.coord([fibFrom,fibPrices[i]]),c=api.coord([fibTo,fibPrices[i]]);
    return {type:'line',shape:{x1:a[0],x2:c[0],y1:a[1],y2:a[1]},style:{stroke:fibLine[i],lineWidth:2}};}},
 {type:'scatter',name:'fib labels',xAxisIndex:0,yAxisIndex:0,z:8,symbolSize:0,silent:true,
  data:fibPrices.map((p,i)=>({value:[fibFrom,p],label:{color:fibLine[i],formatter:fibLevels[i]+'('+p.toFixed(3)+')'}})),
  label:{show:true,position:'left',distance:9,offset:[0,-11.5],fontFamily:F,fontSize:23,fontWeight:600}},
 {type:'custom',name:'ellipses',coordinateSystem:'cartesian2d',xAxisIndex:0,yAxisIndex:0,z:6,clip:false,silent:true,data:ellipses.map((e,i)=>[i]),encode:{x:[],y:[]},
  renderItem:(p,api)=>{const e=ellipses[api.value(0)];const c=api.coord([e[0],e[1]]),d=api.coord([e[0]+e[2],e[1]+e[3]]);
    return {type:'ellipse',shape:{cx:c[0],cy:c[1],rx:d[0]-c[0],ry:c[1]-d[1]},style:{fill:ellipseFill[api.value(0)],stroke:'#1a1a1a',lineWidth:2}};}},
 {type:'line',name:'trend',xAxisIndex:0,yAxisIndex:0,z:7,data:[trendFrom,trendTo],showSymbol:false,lineStyle:{color:'#787b86',width:2,type:[14,14]}},
 // RSI
 {type:'custom',name:'rsi band',coordinateSystem:'cartesian2d',xAxisIndex:1,yAxisIndex:1,z:1,clip:false,silent:true,data:[[0]],encode:{x:[],y:[]},
  renderItem:(p,api)=>{const a=api.coord([0,rsiBand[1]])[1],b=api.coord([0,rsiBand[0]])[1];return {type:'rect',shape:{x:Y.lf,y:a,width:Y.ax-Y.lf,height:b-a},style:{fill:'rgba(76,175,80,.07)'}};}},
 hRule('rsi bounds',rsiBand,'#c3c4c8',2,[8,8],1.5,1),
 {type:'line',name:'RSI',xAxisIndex:1,yAxisIndex:1,z:3,data:rsi.map((v,i)=>[i,v]),showSymbol:false,lineStyle:{color:'#f6bf3a',width:2}},
 {type:'line',name:'RSI EMA',xAxisIndex:1,yAxisIndex:1,z:3,data:rsiEma,showSymbol:false,smooth:.2,lineStyle:{color:'#888b90',width:2.4}},
 // MACD
 {type:'bar',name:'Histogram',xAxisIndex:2,yAxisIndex:2,z:2,barWidth:5,silent:true,
  data:macdHist.map((v,i)=>{const prev=i?macdHist[i-1]:0;const col=v>=0?(v>=prev?'#43a047':'#a5d6a7'):(v<prev?'#ef5350':'#ffcdd2');return {value:[i,v],itemStyle:{color:col}};})},
 {type:'line',name:'MACD',xAxisIndex:2,yAxisIndex:2,z:3,data:macdLine,showSymbol:false,smooth:.2,lineStyle:{color:'#2196f3',width:2.6}},
 {type:'line',name:'Signal',xAxisIndex:2,yAxisIndex:2,z:3,data:macdSignal,showSymbol:false,smooth:.2,lineStyle:{color:'#ff6d00',width:3}}
];
const opt={animation:false,backgroundColor:'#fff',
 grid:[{left:L,right:R,top:Y.t,height:Y.a-Y.t},{left:L,right:R,top:Y.a,height:Y.b-Y.a},{left:L,right:R,top:Y.b,height:Y.c-Y.b}],
 xAxis:[xAxis(0,false),xAxis(1,false),xAxis(2,true)],
 yAxis:[yAxis(0,87.83,104.68,priceTicks,v=>v.toFixed(3)),yAxis(1,12,81.75,rsiTicks,v=>v.toFixed(2)),yAxis(2,-1.275,1.245,macdTicks,v=>(v<0?'\u2212':'')+Math.abs(v).toFixed(3))],
 series};
chart.setOption(opt);

// chrome: frame, legends, header, tags
const els=[];
const rect=(x,y,w,h,fill,z,r,stroke)=>els.push({type:'rect',silent:true,z:z||50,shape:{x,y,width:w,height:h,r:r||0},style:{fill:fill||'none',stroke:stroke||null,lineWidth:stroke?2.5:0}});
const text=(x,y,t,o)=>els.push(Object.assign({type:'text',silent:true,z:(o&&o.zz)||60,style:Object.assign({x,y:y+1.5,text:t,fill:(o&&o.fill)||TXT,font:((o&&o.weight)||'normal')+' '+((o&&o.size)||24.4)+'px '+F,textAlign:(o&&o.align)||'left',textVerticalAlign:'middle'},{})}));
rect(0,0,12,2292,'#fff',40);
rect(2595,0,11,2292,'#fff',40);
const vline=(x,y1,y2)=>els.push({type:'line',silent:true,z:45,shape:{x1:x,x2:x,y1,y2},style:{stroke:AX,lineWidth:2.5}});
const hline=(y,x1,x2)=>els.push({type:'line',silent:true,z:45,shape:{x1,x2,y1:y,y2:y},style:{stroke:AX,lineWidth:2.5}});
hline(Y.t,Y.lf,Y.rt);hline(Y.a,Y.lf,Y.rt);hline(Y.b,Y.lf,Y.rt);hline(Y.c,Y.lf,Y.rt);hline(Y.d,Y.lf,Y.rt);
vline(Y.lf,Y.t,Y.d);vline(Y.ax,Y.t,Y.d);vline(Y.rt,Y.t,Y.d);
// header
const hdr=(y,parts)=>{els.push({type:'text',silent:true,z:60,style:{x:12,y,textVerticalAlign:'middle',
  text:parts.map(p=>'{'+p[0]+'|'+p[1]+'}').join(''),rich:{b:{font:'bold 24.4px '+F,fill:'#131722'},n:{font:'24.4px '+F,fill:'#131722'},g:{font:'24.4px '+F,fill:'#26a69a'},t:{font:'31px '+F,fill:'#26a69a'}}}});};
hdr(26,[['b','nftrh.com'],['n',' published on TradingView.com, July 01, 2021 10:25:15 EDT']]);
hdr(59.5,[['b','TVC:DXY, 1D'],['n','  92.405 '],['t','\u25B2'],['n',' +0.048 (+0.05%) '],['b','O:'],['g','92.349 '],['b','H:'],['g','92.544 '],['b','L:'],['g','92.263 '],['b','C:'],['g','92.406']]);
// legends
text(30,120,'U.S. Dollar Currency Index, 1D, TVC',{weight:'bold'});
text(30,154,'MA (200, close)');
text(30,188,"Vol: The data vendor doesn't provide volume data for this symbol.");
text(30,222,'MA (50, close)');
text(30,256,'EMA (20, close, 0)');
text(30,1675,'RSI (14, open)');
text(30,1709,'EMA (20, RSI)');
text(30,1953,'MACD (12, 26, close, 9)');
// USD
rect(2503,101,54,34,'#fff',50,6,'#d5d8df');
text(2530,118,'USD',{weight:'bold',size:21,align:'center'});
// axis tags: value, box colour, text colour, [side label, left edge], centre
function tag(cy,val,bg,fg,side,left,sideBg,sideFg){
  const w=val.length>=7?108:(val.length===5?85:95);
  rect(Y.ax+1,cy-15.5,w,31,bg,55,4);
  els.push({type:'line',silent:true,z:56,shape:{x1:Y.ax+1,x2:Y.ax+10,y1:cy,y2:cy},style:{stroke:fg,lineWidth:2}});
  text(Y.ax+21,cy,val,{fill:fg,size:21,zz:58});
  if(side){rect(left,cy-15.5,Y.ax-left-1,31,sideBg||bg,55,4);text((left+Y.ax-1)/2,cy,side,{fill:sideFg||fg,size:21,align:'center',zz:58});}
}
const G='#4caf50';
tag(242,'102.992','#e3effd','#131722','High',2402,'#e3effd','#131722');
tag(1012,'94.638','#ff0000','#fff');
rect(Y.ax+1,1203,115,57,'#6fa888',55,4);
els.push({type:'line',silent:true,z:56,shape:{x1:Y.ax+1,x2:Y.ax+10,y1:1219,y2:1219},style:{stroke:'#fff',lineWidth:2}});
text(Y.ax+21,1218,'92.406',{fill:'#fff',size:21,zz:58});
text(Y.ax+21,1245,'08:34:46',{fill:'#e6f0ea',size:21,zz:58});
tag(1276,'92.154','#ff9800','#131722');
tag(1307,'91.530',G,'#fff');
tag(1338,'91.478','#f57f20','#fff','EMA',2405);
tag(1369,'91.446','#ff9800','#131722','MA',2417);
tag(1401,'90.905',G,'#fff');
tag(1432,'90.738','#1976d2','#fff','MA',2417);
tag(1463,'90.518',G,'#fff');
tag(1494,'89.710',G,'#fff');
tag(1525,'89.209','#e3effd','#131722','Low',2406);
tag(1566,'88.639','#6aa84f','#fff');
tag(1688.6,'69.75','#fbc02d','#131722','RSI',2417);
tag(1730,'59.60','#787b86','#fff','EMA:MA',2368);
tag(1967,'0.482','#2196f3','#fff','MACD',2391);
tag(1998,'0.371','#ff6d00','#fff','Signal',2388);
tag(2029,'0.111','#a5d6a7','#131722','Histogram',2346);
// brand
els.push({type:'polygon',silent:true,z:60,shape:{points:[[11,2262],[18,2245],[26,2250],[33,2234],[44,2250],[52,2243],[60,2262],[54,2270],[16,2270]]},style:{fill:'#2962ff'}});
els.push({type:'polyline',silent:true,z:61,shape:{points:[[16,2263],[28,2248],[42,2263],[53,2250]]},style:{stroke:'#fff',lineWidth:2.5,fill:'none'}});
text(68,2256,'TradingView',{size:25,fill:'#333'});
chart.setOption({graphic:{elements:els}});
</script></body></html>
